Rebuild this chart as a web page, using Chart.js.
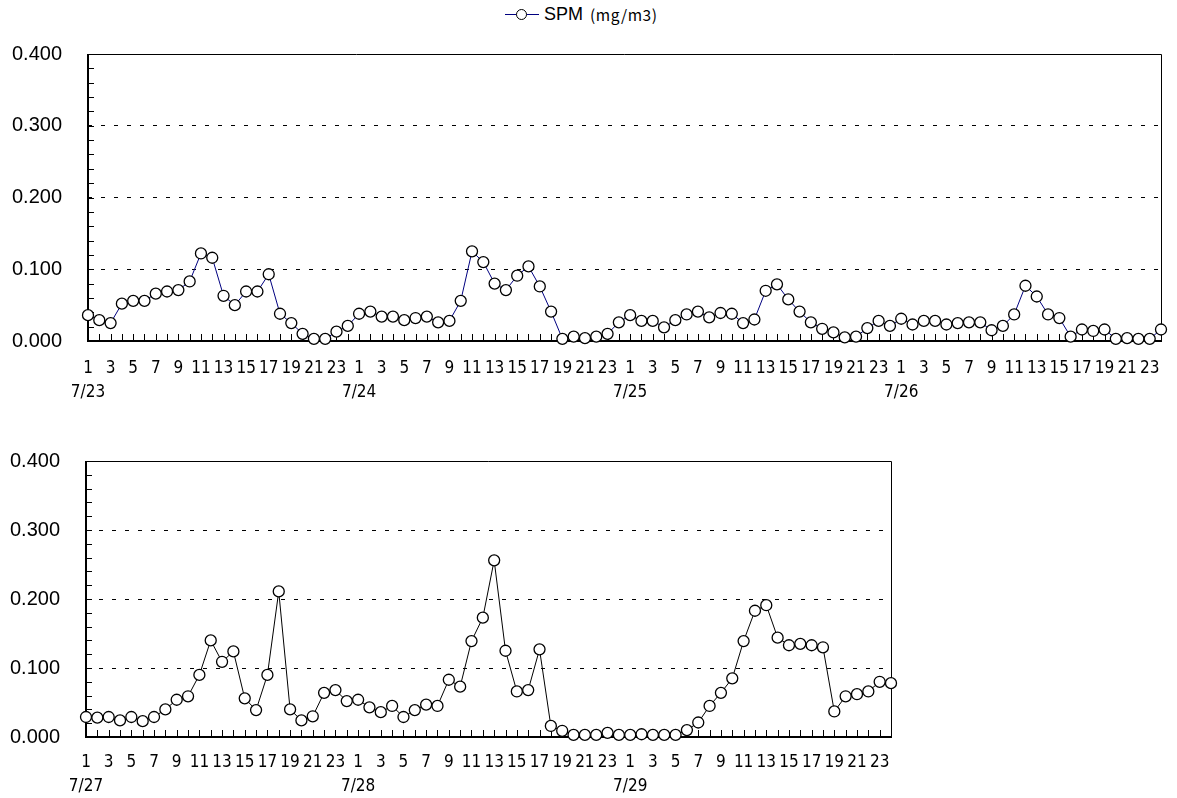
<!DOCTYPE html>
<html>
<head>
<meta charset="utf-8">
<script src="https://cdn.jsdelivr.net/npm/chart.js@4.4.1/dist/chart.umd.min.js"></script>
<style>
  html, body { margin:0; padding:0; background:#fff; }
  body { width:1177px; height:798px; position:relative; overflow:hidden; font-family:'Liberation Sans', Arial, sans-serif; }
  canvas { position:absolute; left:0; }
  #c1 { top:0; }
  #c2 { top:410px; }
  #legend { position:absolute; left:505px; top:3px; height:22px; display:flex; align-items:center; }
  #legend .sym { position:relative; width:34px; height:22px; }
  #legend .sym .ln { position:absolute; left:0; right:0; top:11px; border-top:1px solid #000080; }
  #legend .sym .pt { position:absolute; left:11px; top:6px; width:9px; height:9px; border:1px solid #000; border-radius:50%; background:#fff; }
  #legend .t1 { font-size:18px; margin-left:5px; color:#000; }
  #legend .t2 { font-size:15.5px; margin-left:7px; letter-spacing:0.6px; color:#000; font-family:'Noto Sans CJK JP', sans-serif; }
</style>
</head>
<body>
<div id="legend"><div class="sym"><div class="ln"></div><div class="pt"></div></div><span class="t1">SPM</span><span class="t2">(mg/m3)</span></div>
<canvas id="c1" width="1177" height="410"></canvas>
<canvas id="c2" width="1177" height="388"></canvas>
<script>
// ===== dados (mg/m3), horas 1..24 por dia =====
const hours = [1,2,3,4,5,6,7,8,9,10,11,12,13,14,15,16,17,18,19,20,21,22,23,24];
const days1 = ['7/23','7/24','7/25','7/26'];
const days2 = ['7/27','7/28','7/29'];

const spm0723 = [0.036,0.029,0.025,0.052,0.056,0.056,0.066,0.069,0.071,0.083,0.122,0.116,0.063,0.050,0.069,0.069,0.093,0.038,0.025,0.010,0.003,0.003,0.013,0.021];
const spm0724 = [0.038,0.041,0.034,0.034,0.029,0.032,0.034,0.026,0.028,0.056,0.125,0.110,0.080,0.071,0.091,0.104,0.076,0.041,0.003,0.006,0.004,0.006,0.010,0.026];
const spm0725 = [0.036,0.028,0.028,0.019,0.029,0.037,0.041,0.033,0.039,0.038,0.025,0.030,0.070,0.079,0.058,0.041,0.026,0.017,0.012,0.005,0.006,0.018,0.028,0.021];
const spm0726 = [0.031,0.023,0.028,0.028,0.023,0.025,0.026,0.026,0.015,0.021,0.037,0.077,0.062,0.037,0.032,0.006,0.016,0.014,0.016,0.003,0.004,0.003,0.003,0.016];
const spm0727 = [0.029,0.028,0.029,0.024,0.029,0.023,0.029,0.040,0.054,0.059,0.090,0.140,0.109,0.124,0.056,0.039,0.090,0.211,0.040,0.024,0.030,0.064,0.068,0.052];
const spm0728 = [0.054,0.043,0.036,0.045,0.029,0.039,0.047,0.045,0.083,0.073,0.139,0.173,0.256,0.125,0.066,0.068,0.127,0.016,0.009,0.003,0.003,0.003,0.006,0.003];
const spm0729 = [0.003,0.004,0.003,0.003,0.003,0.010,0.021,0.045,0.064,0.085,0.139,0.183,0.191,0.144,0.133,0.135,0.133,0.130,0.037,0.059,0.062,0.066,0.080,0.078];

const yMin = 0, yMax = 0.4, yMinor = 0.02;

// moldura + ticks internos (eixo y a cada 0.02, eixo x a cada hora)
const frame = {
  id: 'frame',
  beforeDatasetsDraw(chart) {
    const { ctx, chartArea: a, scales: { x, y } } = chart;
    ctx.save();
    ctx.strokeStyle = '#000';
    ctx.lineWidth = 1;
    ctx.beginPath();
    y.ticks.forEach(t => {
      const py = Math.round(y.getPixelForValue(t.value)) + 0.5;
      ctx.moveTo(a.left, py); ctx.lineTo(a.left + 6, py);
    });
    for (let i = 0; i < x.ticks.length; i++) {
      const px = Math.round(x.getPixelForValue(i)) + 0.5;
      ctx.moveTo(px, a.bottom); ctx.lineTo(px, a.bottom - 7);
    }
    ctx.moveTo(a.left, a.top + 0.5); ctx.lineTo(a.right + 0.5, a.top + 0.5); ctx.lineTo(a.right + 0.5, a.bottom);
    ctx.stroke();
    ctx.lineWidth = 2;
    ctx.beginPath();
    ctx.moveTo(a.left, a.top); ctx.lineTo(a.left, a.bottom); ctx.lineTo(a.right + 1, a.bottom);
    ctx.stroke();
    ctx.restore();
  }
};

function mkChart(id, days, series, color, box) {
  const canvas = document.getElementById(id);
  const labels = [];
  days.forEach(d => hours.forEach(h => labels.push(d + ' ' + h)));
  const data = [].concat(...series);
  return new Chart(canvas.getContext('2d'), {
    type: 'line',
    data: {
      labels,
      datasets: [{
        label: 'SPM (mg/m3)',
        data,
        borderColor: color,
        borderWidth: 1,
        tension: 0,
        pointRadius: 5.5,
        pointBorderWidth: 1.3,
        pointBackgroundColor: '#fff',
        pointBorderColor: '#000',
        clip: false
      }]
    },
    options: {
      responsive: false,
      animation: false,
      devicePixelRatio: 1,
      layout: { padding: { top: box.top, right: box.right, left: 0, bottom: 0 } },
      plugins: { legend: { display: false }, tooltip: { enabled: false } },
      scales: {
        x: {
          type: 'category',
          offset: false,
          grid: { display: false, drawTicks: false },
          border: { display: false },
          afterFit: s => { s.height = box.axisH; },
          ticks: {
            autoSkip: false, maxRotation: 0, minRotation: 0,
            padding: box.xPad,
            color: '#000',
            font: { family: "'Liberation Sans Narrow', 'DejaVu Sans Condensed', 'Liberation Sans', sans-serif", size: 17, lineHeight: 1.38 },
            callback: (v, i) => {
              const h = hours[i % 24];
              if (h % 2 === 0) return '';
              return h === 1 ? [String(h), days[Math.floor(i / 24)]] : String(h);
            }
          }
        },
        y: {
          min: yMin, max: yMax,
          afterFit: s => { s.width = box.left; },
          grid: {
            drawTicks: false,
            lineWidth: 1,
            color: c => {
              const v = Math.round(c.tick.value * 100);
              return (v % 10 === 0 && v > 0 && v < 40) ? '#000' : 'rgba(0,0,0,0)';
            }
          },
          border: { display: false, dash: [4, 9] },
          ticks: {
            stepSize: yMinor,
            maxTicksLimit: 30,
            autoSkip: false,
            padding: 26,
            color: '#000',
            font: { family: "'Liberation Sans', Arial, sans-serif", size: 20 },
            callback: v => (Math.round(v * 100) % 10 === 0) ? v.toFixed(3) : ''
          }
        }
      }
    },
    plugins: [frame]
  });
}

mkChart('c1', days1, [spm0723, spm0724, spm0725, spm0726], '#000080',
  { left: 88, top: 54, right: 10, axisH: 69, xPad: 16 });
mkChart('c2', days2, [spm0727, spm0728, spm0729], '#000',
  { left: 86, top: 51, right: 286, axisH: 61, xPad: 14 });
</script>
</body>
</html>
